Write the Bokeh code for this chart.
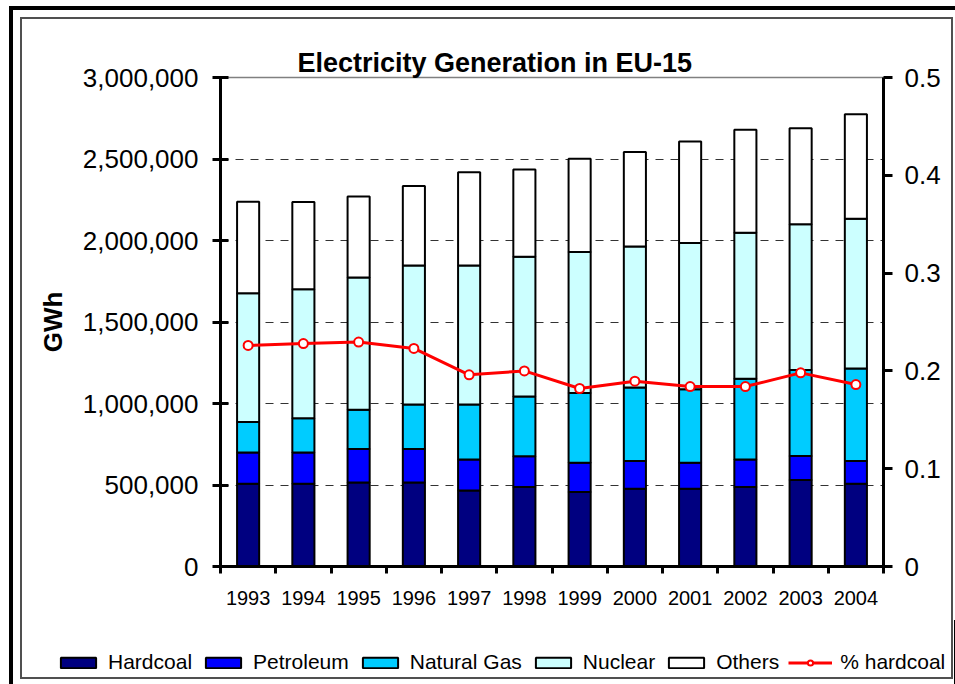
from bokeh.plotting import figure
from bokeh.models import (Range1d, LinearAxis, FixedTicker, Legend, LegendItem,
                          NumeralTickFormatter, ColumnDataSource, InlineStyleSheet)
from bokeh.embed import file_html
from bokeh.resources import INLINE

# ---- data ----
years = [1993, 1994, 1995, 1996, 1997, 1998, 1999, 2000, 2001, 2002, 2003, 2004]
hardcoal = [508000, 508000, 516000, 516000, 467000, 488000, 457000, 477000, 477000, 488000, 531000, 508000]
petroleum = [191000, 191000, 205000, 205000, 189000, 188000, 180000, 171000, 160000, 168000, 147000, 140000]
natural_gas = [188000, 211000, 240000, 273000, 338000, 367000, 427000, 450000, 451000, 496000, 527000, 567000]
nuclear = [789000, 791000, 812000, 852000, 852000, 857000, 866000, 865000, 896000, 895000, 895000, 918000]
others = [562000, 535000, 497000, 488000, 572000, 536000, 572000, 580000, 623000, 633000, 588000, 641000]
pct_hardcoal = [0.226, 0.228, 0.2295, 0.223, 0.196, 0.200, 0.182, 0.1895, 0.184, 0.184, 0.198, 0.186]

series_names = ["Hardcoal", "Petroleum", "Natural Gas", "Nuclear", "Others"]
series_colors = ["#000080", "#0000FF", "#00CCFF", "#CCFFFF", "#FFFFFF"]
left_ticks = [0, 500000, 1000000, 1500000, 2000000, 2500000, 3000000]
right_ticks = [0, 0.1, 0.2, 0.3, 0.4, 0.5]
title_text = "Electricity Generation in EU-15"
ylabel = "GWh"
line_label = "% hardcoal"

FONT = "Liberation Sans"
BAR_W = 0.4

source = ColumnDataSource(dict(year=years, Hardcoal=hardcoal, Petroleum=petroleum,
                               **{"Natural Gas": natural_gas}, Nuclear=nuclear, Others=others))

p = figure(width=955, height=620,
           x_range=Range1d(years[0] - 0.5, years[-1] + 0.5),
           y_range=Range1d(left_ticks[0], left_ticks[-1]),
           output_backend="svg", toolbar_location=None,
           min_border_left=220, min_border_right=72,
           min_border_top=77, min_border_bottom=54)
p.extra_y_ranges = {"pct": Range1d(right_ticks[0], right_ticks[-1])}

p.background_fill_color = "white"
p.border_fill_color = "white"
p.outline_line_color = "#808080"
p.outline_line_width = 1.5

# title
p.title.text = title_text
p.title.text_font = FONT
p.title.text_font_size = "27px"
p.title.text_font_style = "bold"
p.title.text_color = "black"
p.title.align = "left"
p.title.offset = 77
p.title.standoff = 0

# grid
p.xgrid.visible = False
p.ygrid.ticker = FixedTicker(ticks=left_ticks)
p.ygrid.grid_line_color = "#333333"
p.ygrid.grid_line_dash = "8 7"
p.ygrid.grid_line_width = 1.2

# bottom axis
boundaries = [y - 0.5 for y in years] + [years[-1] + 0.5]
xa = p.xaxis[0]
xa.ticker = FixedTicker(ticks=years, minor_ticks=boundaries)
xa.major_tick_in = 0
xa.major_tick_out = 0
xa.minor_tick_in = 0
xa.minor_tick_out = 7
xa.minor_tick_line_width = 3
xa.minor_tick_line_color = "black"
xa.axis_line_width = 3
xa.axis_line_color = "black"
xa.major_label_text_font = FONT
xa.major_label_text_font_size = "20px"
xa.major_label_text_color = "black"
xa.major_label_standoff = 17

# left axis
ya = p.yaxis[0]
ya.ticker = FixedTicker(ticks=left_ticks)
ya.formatter = NumeralTickFormatter(format="0,0")
ya.major_tick_in = 8
ya.major_tick_out = 8
ya.major_tick_line_width = 3
ya.major_tick_line_color = "black"
ya.minor_tick_line_color = None
ya.axis_line_width = 3
ya.axis_line_color = "black"
ya.major_label_text_font = FONT
ya.major_label_text_font_size = "26px"
ya.major_label_text_color = "black"
ya.major_label_standoff = 14
ya.axis_label = ylabel
ya.axis_label_text_font = FONT
ya.axis_label_text_font_size = "26px"
ya.axis_label_text_font_style = "bold"
ya.axis_label_text_color = "black"
ya.axis_label_standoff = 12

# right axis
ra = LinearAxis(y_range_name="pct", ticker=FixedTicker(ticks=right_ticks),
                formatter=NumeralTickFormatter(format="0.[0]"))
ra.major_tick_in = 0
ra.major_tick_out = 9
ra.major_tick_line_width = 3
ra.major_tick_line_color = "black"
ra.minor_tick_line_color = None
ra.axis_line_width = 3
ra.axis_line_color = "black"
ra.major_label_text_font = FONT
ra.major_label_text_font_size = "26px"
ra.major_label_text_color = "black"
ra.major_label_standoff = 12
p.add_layout(ra, "right")

# bars
BAR_STYLE = dict(width=BAR_W, fill_color=series_colors, line_color="black", line_width=2)
bars = p.vbar_stack(series_names, x="year", source=source, **BAR_STYLE)

# % line
LINE_STYLE = dict(line_color="#FF0000", line_width=3)
MARK_STYLE = dict(size=9, fill_color="white", line_color="#FF0000", line_width=2)
ln = p.line(years, pct_hardcoal, y_range_name="pct", **LINE_STYLE)
mk = p.scatter(years, pct_hardcoal, y_range_name="pct", **MARK_STYLE)

# ---- legend strip (separate root under the chart; its ranges hide the data) ----
pl = figure(width=955, height=64, output_backend="svg", toolbar_location=None,
            x_range=Range1d(0, 1), y_range=Range1d(0, 1),
            min_border=0, min_border_left=0, min_border_right=0,
            min_border_top=0, min_border_bottom=0)
pl.axis.visible = False
pl.grid.visible = False
pl.outline_line_color = None
pl.background_fill_color = None
pl.border_fill_color = None
pl.title.visible = False

leg_bars = pl.vbar_stack(series_names, x="year", source=source, **BAR_STYLE)
l_ln = pl.line(years, pct_hardcoal, **LINE_STYLE)
l_mk = pl.scatter(years, pct_hardcoal, **MARK_STYLE)

items = [LegendItem(label=n, renderers=[r]) for n, r in zip(series_names, leg_bars)]
items.append(LegendItem(label=line_label, renderers=[l_ln, l_mk]))
legend = Legend(items=items, orientation="horizontal", location=(52, 6),
                glyph_width=44, glyph_height=13, label_standoff=8, spacing=9,
                padding=4, margin=0, border_line_alpha=0, background_fill_alpha=0,
                label_text_font=FONT, label_text_font_size="21px",
                label_text_color="black")
pl.add_layout(legend)

# outer frame decorations of the original picture
css = """
:host { position: relative; overflow: visible; }
:host::before {
  content: ""; position: absolute; left: 9px; top: 6px; right: 0px; bottom: -64px;
  border-left: 4px solid black; border-top: 4px solid black;
  z-index: 5; pointer-events: none;
}
:host::after {
  content: ""; position: absolute; left: 20px; top: 17px; width: 933px; height: 662px;
  box-sizing: border-box; border: 2px solid #505050;
  z-index: 5; pointer-events: none;
}
"""
p.stylesheets = [InlineStyleSheet(css=css)]

open("out.html", "w").write(file_html([p, pl], INLINE))
